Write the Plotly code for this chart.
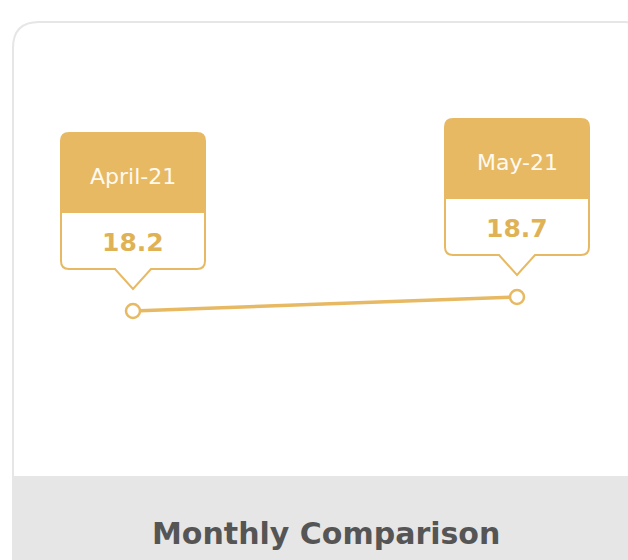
import plotly.graph_objects as go

months = ["April-21", "May-21"]
values = [18.2, 18.7]
value_labels = ["18.2", "18.7"]
footer_title = "Monthly Comparison"

GOLD = "#e7b963"
GOLD_TEXT = "#dfb255"
W, H = 628, 560

fig = go.Figure()

fig.add_trace(go.Scatter(
    x=months, y=values, mode="lines+markers",
    line=dict(color=GOLD, width=3.5),
    marker=dict(size=14, color="white", line=dict(color=GOLD, width=2.5)),
    hoverinfo="skip", showlegend=False,
))

# --- card background + footer (pixel paths anchored to paper top-left) ---
r = 26
cl, ct, cr = 13, 22, 650
card = (f"M {cl},-600 L {cl},{-ct - r} Q {cl},{-ct} {cl + r},{-ct} "
        f"L {cr - r},{-ct} Q {cr},{-ct} {cr},{-ct - r} L {cr},-600 Z")
ft = 476
shapes = [
    dict(type="path", xref="paper", yref="paper", xsizemode="pixel", ysizemode="pixel",
         xanchor=0, yanchor=1, path=card, fillcolor="white",
         line=dict(color="#e6e6e6", width=2), layer="below"),
    dict(type="path", xref="paper", yref="paper", xsizemode="pixel", ysizemode="pixel",
         xanchor=0, yanchor=1, path=f"M {cl + 1},{-ft} L 650,{-ft} L 650,-600 L {cl + 1},-600 Z",
         fillcolor="#e6e6e6", line=dict(width=0), layer="below"),
]

# --- callouts anchored on each point ---
L, R, T, HB, B, TIP, HW, rr = -72, 72, 178, 99, 42, 22, 18, 8
head = (f"M {L},{HB} L {L},{T - rr} Q {L},{T} {L + rr},{T} "
        f"L {R - rr},{T} Q {R},{T} {R},{T - rr} L {R},{HB} Z")
body = (f"M {L},{HB} L {L},{B + rr} Q {L},{B} {L + rr},{B} "
        f"L {-HW},{B} L 0,{TIP} L {HW},{B} "
        f"L {R - rr},{B} Q {R},{B} {R},{B + rr} L {R},{HB} Z")

annotations = []
for i, (m, v, lab) in enumerate(zip(months, values, value_labels)):
    for p, fill in ((body, "white"), (head, GOLD)):
        shapes.append(dict(type="path", xref="x", yref="y", xsizemode="pixel",
                           ysizemode="pixel", xanchor=i, yanchor=v, path=p,
                           fillcolor=fill, line=dict(color=GOLD, width=2)))
    annotations.append(dict(x=m, y=v, text=m, showarrow=False, yshift=135,
                            font=dict(family="DejaVu Sans", size=22, color="#fffaf0")))
    annotations.append(dict(x=m, y=v, text=f"<b>{lab}</b>", showarrow=False, yshift=69,
                            font=dict(family="DejaVu Sans", size=25, color=GOLD_TEXT)))

annotations.append(dict(xref="paper", yref="paper", x=326 / W, y=1 - 533 / H,
                        text=f"<b>{footer_title}</b>", showarrow=False,
                        xanchor="center", yanchor="middle",
                        font=dict(family="DejaVu Sans", size=30, color="#555555")))

# axis ranges chosen so points land where the card expects them
x0p, x1p, y0p, y1p = 133, 517, 311, 297
px_per_x = x1p - x0p
px_per_y = (y0p - y1p) / (values[1] - values[0])
x_range = [-x0p / px_per_x, 1 + (W - x1p) / px_per_x]
y_range = [values[0] - (H - y0p) / px_per_y, values[0] + y0p / px_per_y]

fig.update_layout(
    width=W, height=H,
    margin=dict(l=0, r=0, t=0, b=0),
    paper_bgcolor="white", plot_bgcolor="rgba(0,0,0,0)",
    shapes=shapes, annotations=annotations,
    xaxis=dict(type="category", range=x_range, visible=False, fixedrange=True),
    yaxis=dict(range=y_range, visible=False, fixedrange=True),
)

fig.write_html("out.html", config=dict(displayModeBar=False),
               post_script="document.body.style.margin='0';document.body.style.overflow='hidden';")
